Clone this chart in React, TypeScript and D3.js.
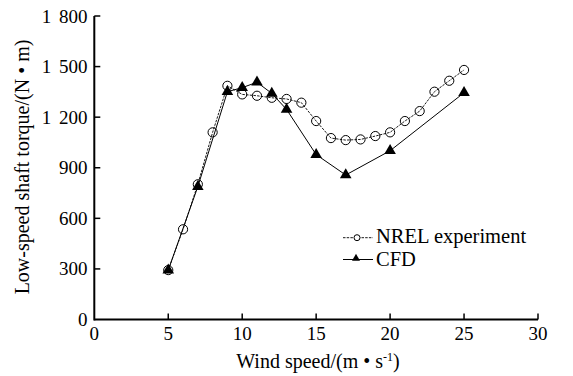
import React from "react";
import * as d3 from "d3";

const nrelSpeed = [5, 6, 7, 8, 9, 10, 11, 12, 13, 14, 15, 16, 17, 18, 19, 20, 21, 22, 23, 24, 25];
const nrelTorque = [293, 535, 802, 1110, 1386, 1335, 1327, 1315, 1308, 1286, 1177, 1076, 1064, 1068, 1088, 1110, 1177, 1236, 1351, 1416, 1480];
const cfdSpeed = [5, 7, 9, 10, 11, 12, 13, 15, 17, 20, 25];
const cfdTorque = [293, 788, 1351, 1375, 1407, 1341, 1246, 978, 857, 1001, 1345];
const xTicks = [0, 5, 10, 15, 20, 25, 30];
const yTicks = [0, 300, 600, 900, 1200, 1500, 1800];
const seriesNames = ["NREL experiment", "CFD"];

const FONT = "Liberation Serif, Times New Roman, Times, DejaVu Serif, serif";

export default function App() {
  const x = d3.scaleLinear().domain([0, 30]).range([94.3, 538]);
  const y = d3.scaleLinear().domain([0, 1800]).range([319.5, 16]);
  const nrel = nrelSpeed.map((s, i) => [s, nrelTorque[i]] as [number, number]);
  const cfd = cfdSpeed.map((s, i) => [s, cfdTorque[i]] as [number, number]);
  const line = d3.line<[number, number]>().x(d => x(d[0])).y(d => y(d[1]));
  const tri = d3.symbol().type(d3.symbolTriangle).size(58)()!;
  const triSmall = d3.symbol().type(d3.symbolTriangle).size(28)()!;
  const fmt = (v: number) => (v >= 1000 ? `${Math.floor(v / 1000)} ${String(v % 1000).padStart(3, "0")}` : String(v));
  const ts = { fontFamily: FONT } as React.CSSProperties;

  return (
    <svg width={573} height={376} style={{ position: "absolute", left: 0, top: 0, background: "#fff", fontFamily: FONT }}>
      <rect width={573} height={376} fill="#fff" />
      {/* axes */}
      <line x1={x(0)} x2={x(30)} y1={y(0)} y2={y(0)} stroke="#000" strokeWidth={2} />
      <line x1={x(0)} x2={x(0)} y1={y(0) + 1} y2={y(1800)} stroke="#000" strokeWidth={2} />
      {xTicks.map(t => (
        <g key={"xt" + t}>
          {t > 0 && <line x1={x(t)} x2={x(t)} y1={y(0)} y2={y(0) - 6} stroke="#000" strokeWidth={1.5} />}
          <text style={ts} x={x(t)} y={340} textAnchor="middle" fontSize={19}>{t}</text>
        </g>
      ))}
      {yTicks.map(t => (
        <g key={"yt" + t}>
          {t > 0 && <line x1={x(0)} x2={x(0) + 6} y1={y(t)} y2={y(t)} stroke="#000" strokeWidth={1.5} />}
          <text style={ts} x={87.5} y={y(t) + 6.5} textAnchor="end" fontSize={19} wordSpacing={3}>{fmt(t)}</text>
        </g>
      ))}
      {/* axis titles */}
      <text style={ts} x={318} y={367.5} textAnchor="middle" fontSize={20}>
        Wind speed/(m • s<tspan dy={-7} fontSize={12}>-1</tspan><tspan dy={7}>)</tspan>
      </text>
      <text style={ts} transform="translate(29,167) rotate(-90)" textAnchor="middle" fontSize={20}>
        Low-speed shaft torque/(N • m)
      </text>
      {/* series */}
      <path d={line(nrel)!} fill="none" stroke="#000" strokeWidth={0.9} strokeDasharray="2.5,1.2" />
      <path d={line(cfd)!} fill="none" stroke="#000" strokeWidth={1} />
      {nrel.map((d, i) => (
        <circle key={"c" + i} cx={x(d[0])} cy={y(d[1])} r={4.6} fill="none" stroke="#000" strokeWidth={1} />
      ))}
      {cfd.map((d, i) => (
        <path key={"t" + i} d={tri} transform={`translate(${x(d[0])},${y(d[1])})`} fill="#000" />
      ))}
      {/* legend */}
      <line x1={343} x2={373} y1={237.7} y2={237.7} stroke="#000" strokeWidth={0.9} strokeDasharray="2.5,1.2" />
      <circle cx={357} cy={237.7} r={3} fill="#fff" stroke="#000" strokeWidth={1} />
      <text style={ts} x={376} y={243} fontSize={20.5}>{seriesNames[0]}</text>
      <line x1={343} x2={373} y1={259.5} y2={259.5} stroke="#000" strokeWidth={1} />
      <path d={triSmall} transform="translate(356,258.5)" fill="#000" />
      <text style={ts} x={376} y={266} fontSize={20.5}>{seriesNames[1]}</text>
    </svg>
  );
}
